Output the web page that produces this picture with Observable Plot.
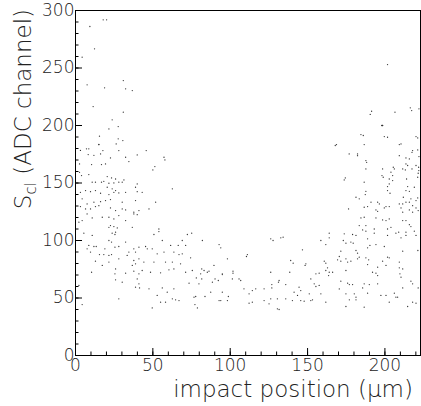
<!DOCTYPE html>
<html><head><meta charset="utf-8">
<script src="https://cdn.jsdelivr.net/npm/d3@7"></script>
<script src="https://cdn.jsdelivr.net/npm/@observablehq/plot@0.6"></script>
<style>body{margin:0;background:#fff} svg{display:block}</style>
</head><body><div id="chart"></div>
<script>
// Left cluster (impact position, S_cl)
const leftX = [21.6,27.6,15.5,27.6,30.6,15.1,26.3,17.7,8.6,8.2,11.9,16.2,22.6,28.0,32.4,39.9,34.5,45.7,57.2,57.8,2.6,10.4,16.8,19.4,51.3,50.0,2.6,3.9,8.6,20.5,23.3,25.9,31.3,30.2,10.8,12.9,16.8,18.3,21.6,24.8,28.0,39.9,38.8,43.1,62.6,23.7,25.9,20.5,3.2,6.5,9.7,12.9,16.2,21.6,24.8,28.0,32.4,39.9,51.8,38.8,30.2,22.6,19.4,16.2,11.9,7.5,4.3,3.2,6.5,9.7,12.9,15.1,22.6,25.9,30.2,32.4,37.7,41.0,47.5,7.5,10.8,17.3,21.6,24.8,28.0,32.4,37.7,39.9,4.3,22.6,27.0,21.6,24.8,36.7,2.2,53.9];
const leftY = [197.0,199.1,190.7,188.4,186.9,183.4,184.0,178.2,179.7,174.7,174.1,175.3,171.8,178.2,172.4,174.4,168.6,178.2,172.4,170.1,166.6,166.0,166.0,166.6,164.3,161.4,159.3,156.5,157.3,155.6,154.4,153.5,152.7,150.7,150.7,150.7,150.7,151.5,149.8,150.1,150.7,149.2,146.3,141.9,144.9,144.9,143.4,146.3,141.9,143.4,142.5,143.4,141.1,139.9,141.9,141.4,141.9,142.5,133.3,134.7,133.3,135.6,134.7,133.8,133.3,131.8,136.2,129.5,127.5,127.5,129.5,130.3,128.3,126.0,127.5,126.6,124.6,126.0,127.5,123.1,119.6,120.2,120.2,118.8,121.7,117.3,123.1,122.5,117.3,113.0,110.9,111.5,112.1,111.5,115.9,110.0];
// Sparse high values
const highX = [17.9,20.1,9.3,12.3,4.3,30.9,7.5,18.8,32.4,36.7,11.4,30.9,23.7,3.2,15.1,7.1,201.7,191.4,190.5,206.5,216.4,217.3,222.0,197.9,198.5];
const highY = [291.9,291.9,286.1,266.7,259.4,239.1,235.4,232.8,231.9,230.4,216.5,211.6,204.9,178.3,183.5,179.7,253.0,212.4,209.6,211.6,215.4,213.0,214.5,200.0,200.0];
// Lower left band
const lowLeftX = [5.4,10.8,23.7,25.9,25.5,50.7,53.9,56.1,69.0,61.5,66.4,21.6,23.3,8.6,11.9,7.5,9.7,13.4,19.0,25.5,28.0,32.4,34.5,33.4,37.7,38.8,41.0,45.3,46.4,49.6,52.8,57.2,63.6,66.9,69.0,15.5,18.3,21.6,23.3,12.9,21.6,28.0,37.7,41.0,44.2,36.7,38.8,43.1,50.7,58.2,62.6,67.9,17.3,25.9,32.4,37.7,41.0,48.5,55.0,60.4,63.6,10.4,25.5,25.9,30.2,39.9,41.0,38.8,41.4,47.5,56.1,59.3,63.6,2.2,52.8,62.6,64.7,55.0,58.2,66.9,28.0,49.6,4.3];
const lowLeftY = [106.4,104.4,106.4,107.2,105.2,105.2,107.8,100.0,100.0,95.7,95.7,100.0,98.6,95.7,94.8,92.8,89.9,94.8,92.8,94.2,94.8,98.6,89.9,87.0,92.8,89.9,94.2,94.8,92.8,92.8,88.4,89.9,89.9,87.8,88.4,87.8,87.8,87.0,87.8,82.0,81.2,84.1,82.6,84.1,81.2,78.3,79.7,73.9,81.2,81.2,81.2,79.7,78.3,75.3,71.6,73.3,71.0,72.4,71.9,74.5,75.3,72.4,71.0,65.8,63.8,66.6,62.3,59.4,58.8,58.0,58.8,55.1,58.0,60.9,52.2,49.3,48.4,46.4,46.4,47.8,49.3,41.4,44.3];
// Middle band
const midX = [72.3,75.1,82.0,92.8,93.9,71.2,74.4,98.2,111.1,110.5,126.2,127.7,132.7,134.2,146.7,139.1,140.7,148.9,148.4,89.5,94.9,81.6,83.1,75.5,71.2,80.9,85.2,86.3,101.8,101.8,94.9,78.1,81.6,79.8,73.4,90.2,92.3,88.5,101.4,105.7,106.8,126.2,138.5,131.6,131.2,135.9,126.9,144.5,145.6,126.9,116.5,114.3,112.2,108.9,121.9,87.4,94.9,76.6,77.7,83.7,92.8,93.9,98.2,98.8,112.2,114.3,121.9,126.2,125.1,130.5,135.9,141.3,143.5,140.2,145.6,147.8,130.5,131.6,77.2,78.8];
const midY = [105.2,106.4,100.0,96.5,93.6,95.7,84.9,84.1,87.8,86.1,101.5,100.0,102.3,102.9,91.9,82.6,80.3,79.7,78.3,78.3,71.0,75.3,73.9,73.9,72.4,71.0,72.4,73.3,73.3,71.6,70.4,67.5,66.6,62.3,62.9,66.6,65.2,63.8,66.6,66.6,65.2,72.4,72.4,65.2,63.8,61.7,61.7,59.4,56.5,58.8,58.0,56.5,53.6,58.0,58.0,55.1,55.1,50.7,51.3,51.3,47.8,47.8,47.8,51.3,45.5,46.4,47.8,49.3,44.9,49.3,49.3,55.1,52.2,47.8,47.8,47.2,40.6,40.0,44.3,41.4];
// Right cluster
const rightX = [198.5,184.5,186.0,199.6,201.7,220.1,221.2,168.7,167.9,186.6,210.4,209.3,176.9,182.3,182.3,209.3,217.9,221.2,217.5,222.0,213.6,215.8,187.7,188.2,187.7,198.5,205.4,206.1,213.6,214.7,220.1,221.8,211.5,213.2,217.5,221.9,203.9,205.0,221.5,221.2,198.1,198.9,174.4,173.7,186.6,202.8,205.0,202.8,214.0,214.7,213.6,215.8,219.0,201.7,201.7,187.7,187.3,181.3,183.4,203.3,211.9,216.8,221.2,220.1,215.8,213.6,211.5,209.3,217.9,195.3,196.4,191.0,202.8,199.6,200.7,194.2,195.3,188.8,186.6,176.5,210.4,211.5,215.8,217.9,221.5,220.1,213.6,211.5,186.6,184.5,194.2,202.8,200.7,198.5,183.4,187.7,203.9,201.7,215.8,216.8,193.1,185.6];
const rightY = [200.0,192.1,191.3,190.4,189.8,190.4,189.2,183.4,182.6,183.4,184.0,183.4,175.3,175.3,173.8,173.8,178.2,178.8,176.7,173.0,171.8,170.9,169.5,168.0,162.2,162.2,163.7,162.2,166.6,165.2,165.2,163.7,162.2,161.4,162.2,160.8,159.4,156.5,158.5,155.0,156.5,155.0,154.4,152.7,150.7,153.5,152.1,149.2,153.5,146.9,143.4,142.8,146.3,146.9,143.4,142.8,139.9,137.6,136.2,141.1,137.6,136.2,137.0,134.7,133.3,133.3,131.8,131.8,130.3,133.3,131.8,133.3,129.5,128.3,129.5,126.6,125.4,129.5,128.9,127.5,128.3,124.6,126.6,124.6,126.0,128.3,117.3,117.3,120.2,119.6,119.6,118.8,117.3,117.9,113.0,113.0,111.5,110.0,113.8,112.1,110.0,109.2];
// Lower right band
const lowRightX = [164.0,164.0,173.7,179.1,181.3,187.7,193.1,201.7,207.1,208.9,213.6,213.6,210.4,220.1,219.0,158.6,161.8,173.1,174.8,178.0,179.5,188.8,190.3,194.2,188.8,171.5,181.3,182.3,199.6,211.5,221.3,170.5,169.4,171.5,174.8,178.0,175.9,182.3,183.4,187.7,189.5,188.8,201.7,202.8,209.3,198.5,195.3,200.7,160.8,161.8,162.9,161.8,164.0,166.2,157.5,155.4,163.6,174.8,192.0,194.2,195.3,209.3,211.5,209.7,210.4,152.1,154.3,155.4,157.5,171.5,175.9,177.0,179.1,186.6,189.9,185.6,195.3,170.5,211.5,216.8,217.9,221.5,151.1,158.6,174.8,180.2,181.3,188.8,197.4,200.7,206.1,207.1,208.2,153.2,152.1,161.8,177.0,181.3,202.8,217.9,220.1,174.8,186.6,214.7];
const lowRightY = [106.4,102.3,105.8,105.2,104.4,108.1,106.4,104.4,106.4,107.2,107.2,104.4,102.3,104.4,108.1,100.0,96.5,100.0,97.7,98.6,97.7,101.5,95.7,96.5,93.6,90.7,91.3,89.0,94.8,90.7,91.3,86.1,83.2,82.0,84.1,82.0,81.2,84.1,85.5,84.9,83.2,79.1,85.5,84.9,81.2,82.0,76.8,78.3,82.0,80.3,76.2,73.9,72.4,72.4,71.6,71.0,69.5,73.9,72.4,71.6,69.5,76.2,75.3,71.0,68.1,66.6,62.3,60.0,60.9,64.6,62.9,61.7,61.7,62.3,61.7,58.8,62.3,57.9,58.8,64.6,62.3,58.8,53.6,53.6,53.6,53.6,50.7,54.2,52.2,52.2,54.2,50.7,50.7,48.4,47.8,46.4,48.4,48.4,46.4,46.4,45.5,42.6,42.0,42.6];

const xMajorTicks = [0,50,100,150,200];
const xMinorTicks = [0,10,20,30,40,50,60,70,80,90,100,110,120,130,140,150,160,170,180,190,200,210,220];
const yMajorTicks = [0,50,100,150,200,250,300];
const yMinorTicks = [0,10,20,30,40,50,60,70,80,90,100,110,120,130,140,150,160,170,180,190,200,210,220,230,240,250,260,270,280,290,300];
const xLabelText = "impact position (μm)";
const yLabelMain = "S", yLabelSub = "cl", yLabelRest = " (ADC channel)";

const pairs = (xs, ys) => xs.map((x, i) => ({x, y: ys[i]}));
const points = [
  ...pairs(leftX, leftY), ...pairs(highX, highY), ...pairs(lowLeftX, lowLeftY),
  ...pairs(midX, midY), ...pairs(rightX, rightY), ...pairs(lowRightX, lowRightY)
];

const blank = () => "";
const plot = Plot.plot({
  width: 421, height: 406,
  marginLeft: 75, marginRight: 1, marginTop: 10, marginBottom: 51,
  x: {domain: [0, 223]},
  y: {domain: [0, 300]},
  style: {fontFamily: "DejaVu Sans", fontSize: "17px", fontWeight: "200", color: "#222", background: "white", overflow: "visible"},
  marks: [
    Plot.dot(points, {x: "x", y: "y", r: 0.65, fill: "#333", stroke: null}),
    Plot.axisX({ticks: xMinorTicks, tickSize: -3.5, tickFormat: blank, label: null, stroke: "black"}),
    Plot.axisX({ticks: xMajorTicks, tickSize: -7, tickPadding: 10, label: null, stroke: "black"}),
    Plot.axisY({ticks: yMinorTicks, tickSize: -3.5, tickFormat: blank, label: null, stroke: "black"}),
    Plot.axisY({ticks: yMajorTicks, tickSize: -7, tickPadding: 8, label: null, stroke: "black"}),
    Plot.frame({stroke: "black"})
  ]
});

const svg = d3.select(plot);
svg.append("text")
  .attr("x", 413).attr("y", 397)
  .attr("text-anchor", "end")
  .attr("font-family", "DejaVu Sans")
  .attr("font-weight", 200)
  .attr("font-size", 23)
  .attr("fill", "#222")
  .text(xLabelText);
const yl = svg.append("text")
  .attr("transform", "translate(31,9) rotate(-90)")
  .attr("text-anchor", "end")
  .attr("font-family", "DejaVu Sans")
  .attr("font-weight", 200)
  .attr("font-size", 23)
  .attr("fill", "#222");
yl.append("tspan").text(yLabelMain);
yl.append("tspan").attr("font-size", 15).attr("dy", 5).text(yLabelSub);
yl.append("tspan").attr("dy", -5).text(yLabelRest);

document.getElementById("chart").appendChild(plot);
</script></body></html>
